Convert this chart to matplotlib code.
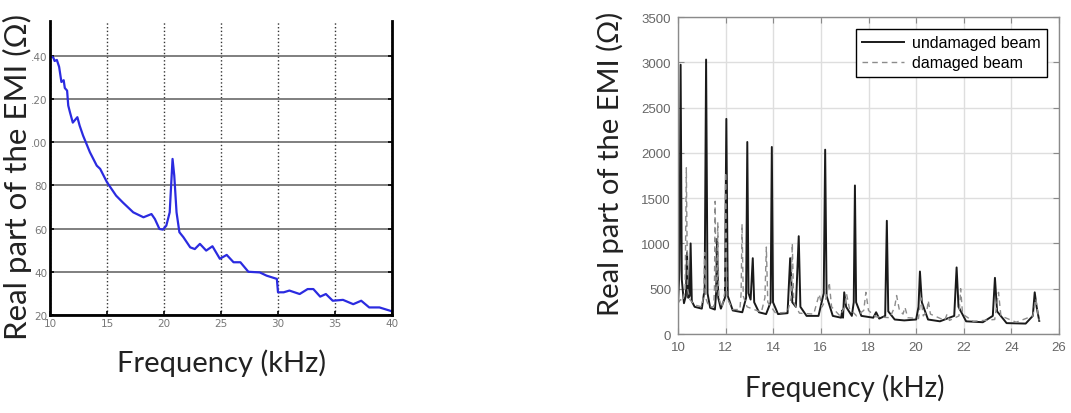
import matplotlib
matplotlib.use('Agg')
import matplotlib.pyplot as plt

# left panel: real part of EMI, 10-40 kHz (blue trace)
left_freq = [10.0, 10.3, 10.4, 10.6, 10.8, 11.0, 11.2, 11.3, 11.5, 11.6, 11.75,
             12.0, 12.4, 12.6, 12.9, 13.5, 14.1, 14.4, 15.0, 15.8, 16.4, 17.3,
             18.2, 18.9, 19.2, 19.6, 19.9, 20.2, 20.5, 20.75, 20.9, 21.1, 21.35,
             21.7, 22.3, 22.7, 23.15, 23.7, 24.25, 24.9, 25.5, 26.1, 26.7, 27.4,
             28.4, 29.0, 29.9, 30.0, 30.5, 31.0, 31.9, 32.6, 33.1, 33.7, 34.2,
             34.8, 35.7, 36.6, 37.3, 38.0, 38.9, 40.0]
left_real = [140, 139, 137.5, 138, 134.8, 127.8, 128.6, 125, 123.8, 116.9, 113.8,
             109, 111.5, 107.6, 103, 95.3, 89.1, 87.6, 81.4, 75.2, 72, 67.5,
             65.2, 66.7, 64.4, 59.8, 59.5, 61.3, 67.5, 92.2, 84.5, 67.5, 58.3,
             56, 51.3, 50.5, 52.9, 49.8, 51.8, 46, 47.8, 44.4, 44.4, 40,
             39.7, 38.2, 36.7, 30.5, 30.5, 31.3, 29.7, 32, 32, 28.5, 29.7,
             26.6, 27, 25, 26.6, 23.5, 23.5, 21.7]
left_yticks = [20, 40, 60, 80, 100, 120, 140]
left_yticklabels = ['20', '40', '60', '80', '.00', '.20', '.40']

# right panel: undamaged vs damaged beam, 10-25 kHz
undamaged_freq = [10.00, 10.06, 10.11, 10.16, 10.25, 10.33, 10.38, 10.43, 10.49,
                  10.53, 10.58, 10.7, 11.0, 11.12, 11.18, 11.24, 11.35, 11.55,
                  11.60, 11.64, 11.69, 11.8, 11.97, 12.03, 12.09, 12.3, 12.7,
                  12.86, 12.91, 12.96, 13.05, 13.14, 13.2, 13.4, 13.7, 13.89,
                  13.94, 13.99, 14.2, 14.6, 14.71, 14.8, 14.95, 15.07, 15.14,
                  15.4, 15.9, 16.12, 16.18, 16.24, 16.5, 16.85, 16.9, 16.93,
                  16.98, 17.06, 17.3, 17.38, 17.43, 17.48, 17.7, 18.2, 18.32,
                  18.45, 18.7, 18.77, 18.83, 19.1, 19.5, 20.0, 20.1, 20.16,
                  20.24, 20.5, 21.0, 21.6, 21.7, 21.78, 22.1, 22.8, 23.22,
                  23.31, 23.4, 23.8, 24.6, 24.9, 24.98, 25.06, 25.17]
undamaged_real = [330, 700, 2973, 600, 340, 420, 900, 400, 420,
                  1000, 360, 300, 280, 500, 3030, 450, 290, 270,
                  450, 1050, 400, 280, 400, 2375, 420, 260, 240,
                  400, 2120, 450, 380, 837, 350, 240, 220, 350,
                  2065, 350, 220, 230, 837, 350, 300, 1080, 300,
                  200, 200, 450, 2035, 420, 200, 180, 260, 180,
                  460, 300, 200, 350, 1640, 350, 200, 180, 240,
                  170, 200, 1250, 250, 160, 150, 160, 300, 690,
                  350, 160, 140, 200, 735, 300, 140, 130, 200,
                  620, 250, 120, 115, 200, 460, 300, 145]

damaged_freq = [10.00, 10.1, 10.2, 10.3, 10.35, 10.4, 10.5, 10.7, 11.0, 11.08,
                11.12, 11.16, 11.3, 11.5, 11.53, 11.56, 11.6, 11.64, 11.67,
                11.71, 11.85, 11.96, 12.0, 12.05, 12.3, 12.6, 12.65, 12.69,
                12.74, 12.9, 13.1, 13.5, 13.65, 13.71, 13.77, 14.1, 14.6,
                14.75, 14.8, 14.86, 15.1, 15.7, 15.93, 16.05, 16.2, 16.35,
                16.45, 16.8, 17.0, 17.08, 17.2, 17.5, 17.8, 17.89, 18.0,
                18.3, 18.9, 19.1, 19.18, 19.3, 19.45, 19.53, 19.65, 20.1,
                20.2, 20.3, 20.45, 20.51, 20.6, 21.2, 21.3, 21.4, 21.8,
                21.87, 21.95, 22.4, 23.3, 23.46, 23.56, 24.2, 24.9, 25.03,
                25.1, 25.17]
damaged_real = [340, 380, 360, 500, 1835, 500, 380, 320, 300, 450,
                900, 400, 300, 300, 500, 1465, 450, 500, 1235,
                400, 290, 450, 1785, 400, 270, 270, 450, 1215,
                420, 300, 280, 240, 400, 960, 350, 230, 240,
                400, 1000, 350, 230, 220, 440, 300, 380, 570,
                300, 200, 300, 440, 280, 200, 260, 460, 260,
                190, 180, 300, 425, 260, 220, 295, 180, 170,
                400, 200, 250, 370, 220, 150, 220, 150, 200,
                500, 220, 140, 160, 460, 200, 130, 200, 390,
                250, 150]

W, H = 1071, 414
fig = plt.figure(figsize=(W / 100, H / 100), dpi=100)

def fx(px):
    return px / W

def fy(py):
    return 1 - py / H

# ---- left panel ----
axl = fig.add_axes([fx(50), fy(316), fx(392 - 50), (316 - 22) / H])
axl.plot(left_freq, left_real, color='#2b2be0', lw=1.6)
axl.set_xlim(10, 40)
axl.set_ylim(20, 156)
axl.set_xticks(range(10, 41, 5))
axl.set_yticks(left_yticks)
axl.set_yticklabels(left_yticklabels)
axl.yaxis.grid(True, color='#6a6a6a', lw=1.2)
axl.xaxis.grid(True, color='#333333', lw=1.0, ls=':')
axl.set_axisbelow(True)
for s in ['left', 'bottom', 'right']:
    axl.spines[s].set_linewidth(2)
    axl.spines[s].set_color('black')
axl.spines['top'].set_visible(False)
axl.tick_params(direction='in', right=True, length=3, width=1.2,
                labelsize=7.5, labelcolor='#777777', pad=2)

fig.text(fx(17), fy(177), 'Real part of the EMI (\u03a9)', rotation=90,
         ha='center', va='center', fontsize=22.5, family=['Lato', 'DejaVu Sans'],
         color='#222222')
fig.text(fx(222), fy(363), 'Frequency (kHz)', ha='center', va='center',
         fontsize=21, family=['Lato', 'DejaVu Sans'], color='#222222')

# ---- right panel ----
axr = fig.add_axes([fx(678), fy(335), fx(1059 - 678), (335 - 18) / H])
axr.plot(undamaged_freq, undamaged_real, color='#1a1a1a', lw=1.4,
         label='undamaged beam')
axr.plot(damaged_freq, damaged_real, color='#8c8c8c', lw=1.0, ls=(0, (4, 3)),
         label='damaged beam')
axr.set_xlim(10, 26)
axr.set_ylim(0, 3500)
axr.set_xticks(range(10, 27, 2))
axr.set_yticks(range(0, 3501, 500))
axr.grid(True, color='#dedede', lw=1.0)
axr.set_axisbelow(True)
for s in axr.spines.values():
    s.set_color('#8a8a8a')
    s.set_linewidth(1.0)
axr.tick_params(direction='in', top=True, right=True, length=4,
                color='#8a8a8a', labelsize=9.5, labelcolor='#666666', pad=5)
for lab in axr.get_xticklabels() + axr.get_yticklabels():
    lab.set_family('Liberation Sans')
leg = axr.legend(loc='upper right', bbox_to_anchor=(0.9685, 0.962),
                 borderaxespad=0, fancybox=False, framealpha=1,
                 edgecolor='black', handlelength=2.6, handletextpad=0.5,
                 labelspacing=0.3, borderpad=0.4,
                 prop={'family': 'Liberation Sans', 'size': 11.5})
leg.get_frame().set_linewidth(1.0)

fig.text(fx(610), fy(164), 'Real part of the EMI (\u03a9)', rotation=90,
         ha='center', va='center', fontsize=21, family=['Lato', 'DejaVu Sans'],
         color='#222222')
fig.text(fx(845), fy(388), 'Frequency (kHz)', ha='center', va='center',
         fontsize=20, family=['Lato', 'DejaVu Sans'], color='#222222')

fig.savefig('out.png', dpi=100)
